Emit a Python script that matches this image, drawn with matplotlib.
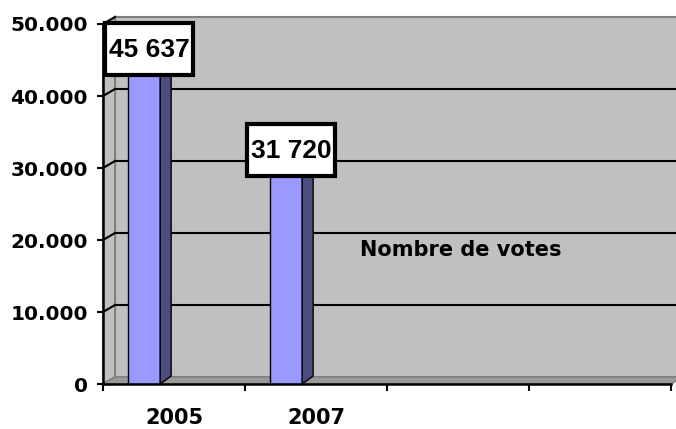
import matplotlib
matplotlib.use("Agg")
import matplotlib.pyplot as plt
from matplotlib.patches import Polygon, Rectangle
from matplotlib.transforms import IdentityTransform, offset_copy

categories = ['2005', '2007', '', '']
votes = [45637, 31720]
labels = ['45 637', '31 720']
yticks = [0, 10000, 20000, 30000, 40000, 50000]
ytick_labels = ['0', '10.000', '20.000', '30.000', '40.000', '50.000']
series_name = 'Nombre de votes'

W, H = 676, 429
fig = plt.figure(figsize=(W / 100, H / 100), dpi=100)
ax = fig.add_axes([103 / W, 45 / H, 568 / W, 360 / H])
ax.set_xlim(0, len(categories))
ax.set_ylim(0, 50000)
ax.patch.set_visible(False)

# depth of the 3d effect, in pixels
dx, dy = 12, 7
ident = IdentityTransform()
back = offset_copy(ax.transData, fig, x=dx, y=dy, units='dots')

def px(x, y):
    return ax.transData.transform((x, y))

n = len(categories)
ymax = 50000

# back wall and grid lines
ax.add_patch(Rectangle((0, 0), n, ymax, transform=back, facecolor='#c0c0c0',
                       edgecolor='#808080', lw=1.5, zorder=0, clip_on=False))
ax.hlines(yticks[1:-1], 0, n, colors='black', lw=1.5, transform=back,
          zorder=1, clip_on=False)

# side wall
p0, p1 = px(0, 0), px(0, ymax)
side = [p0, p1, p1 + (dx, dy), p0 + (dx, dy)]
ax.add_patch(Polygon(side, closed=True, transform=ident, facecolor='#c0c0c0',
                     edgecolor='#808080', lw=1.5, zorder=0.5, clip_on=False))
for t in yticks[1:]:
    a = px(0, t)
    ax.plot([a[0], a[0] + dx], [a[1], a[1] + dy], color='black', lw=1.5,
            transform=ident, zorder=1, clip_on=False)

# floor
f0, f1 = px(0, 0), px(n, 0)
floor = [f0, f1, f1 + (dx, dy), f0 + (dx, dy)]
ax.add_patch(Polygon(floor, closed=True, transform=ident, facecolor='#9a9a9a',
                     edgecolor='#808080', lw=1, zorder=0.6, clip_on=False))

# bars with side and top faces
bar_w = 0.225
bar_x = [i + 0.29 for i in range(len(votes))]
ax.bar(bar_x, votes, width=bar_w, color='#9999ff', edgecolor='black', lw=1,
       zorder=3)
for xc, v, lab in zip(bar_x, votes, labels):
    r0, r1 = px(xc + bar_w / 2, 0), px(xc + bar_w / 2, v)
    ax.add_patch(Polygon([r0, r1, r1 + (dx - 1, dy + 1), r0 + (dx - 1, dy + 1)],
                         closed=True, transform=ident, facecolor='#4d4d80',
                         edgecolor='black', lw=1, zorder=3, clip_on=False))
    l1 = px(xc - bar_w / 2, v)
    ax.add_patch(Polygon([l1, r1, r1 + (dx - 1, dy + 1), l1 + (dx - 1, dy + 1)],
                         closed=True, transform=ident, facecolor='#7a7acc',
                         edgecolor='black', lw=1, zorder=3, clip_on=False))
    # value label box
    c = px(xc, v) + (5, 6)
    ax.add_patch(Rectangle((c[0] - 44, c[1] - 26), 88, 52, transform=ident,
                           facecolor='white', edgecolor='black', lw=3,
                           zorder=5, clip_on=False))
    ax.text(c[0], c[1] - 1, lab, transform=ident, ha='center', va='center',
            fontsize=19, fontweight='bold', family='Liberation Sans', zorder=6)

# axes
for s in ['top', 'right']:
    ax.spines[s].set_visible(False)
for s in ['left', 'bottom']:
    ax.spines[s].set_linewidth(1.8)
    ax.spines[s].set_zorder(4)

ax.set_yticks(yticks)
ax.set_yticklabels(ytick_labels, fontsize=14.5, fontweight='bold')
ax.tick_params(axis='y', length=4, width=1.5, pad=7)

ax.set_xticks(range(n + 1))
ax.set_xticklabels([])
ax.tick_params(axis='x', which='major', length=5, width=1.5)
ax.set_xticks([i + 0.5 for i in range(n)], minor=True)
ax.set_xticklabels(categories, minor=True, fontsize=15, fontweight='bold')
ax.tick_params(axis='x', which='minor', length=0, pad=17)

ax.text(0.63, 0.372, series_name, transform=ax.transAxes, ha='center',
        va='center', fontsize=15, fontweight='bold')

fig.savefig('out.png', dpi=100)
